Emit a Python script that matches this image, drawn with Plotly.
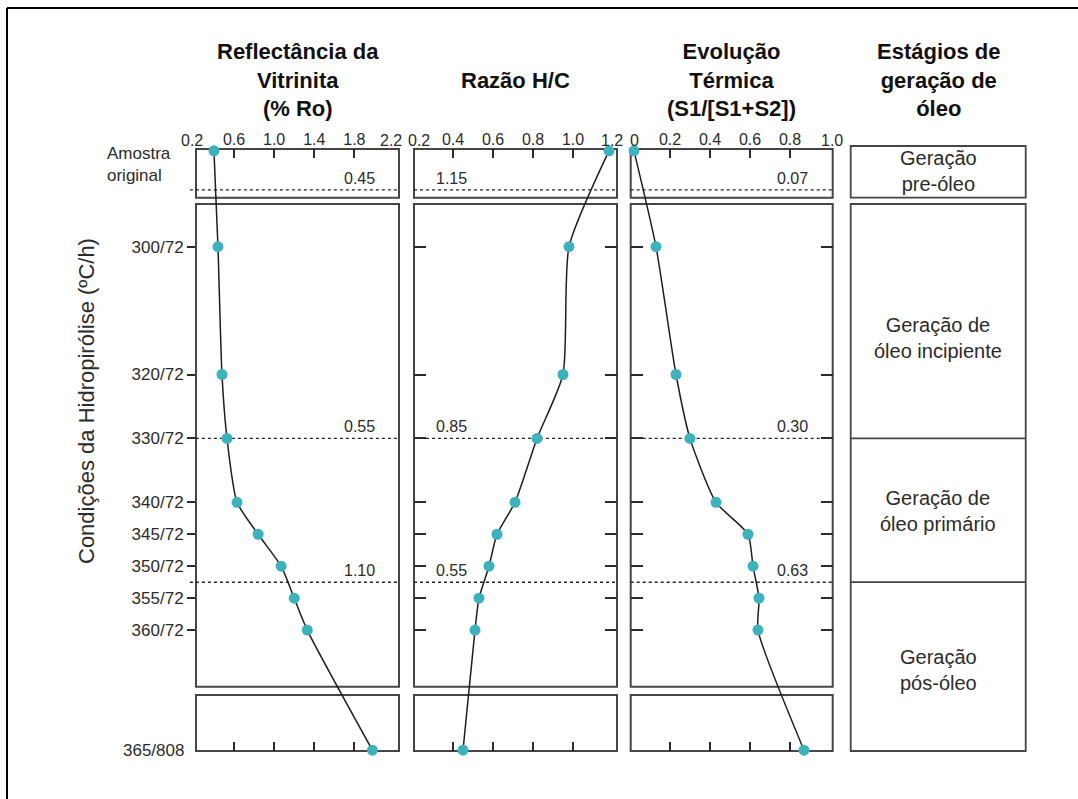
import plotly.graph_objects as go

W, H = 1078, 799

# ---- data -------------------------------------------------------------
categories = ["Amostra original", "300/72", "320/72", "330/72", "340/72",
              "345/72", "350/72", "355/72", "360/72", "365/808"]
ro_values = [0.40, 0.44, 0.48, 0.53, 0.63, 0.84, 1.07, 1.20, 1.33, 1.98]
hc_values = [1.18, 0.98, 0.95, 0.82, 0.71, 0.62, 0.58, 0.53, 0.51, 0.45]
s1_values = [0.02, 0.13, 0.23, 0.30, 0.43, 0.59, 0.615, 0.645, 0.64, 0.87]

ro_ticks = [0.2, 0.6, 1.0, 1.4, 1.8, 2.2]
hc_ticks = [0.2, 0.4, 0.6, 0.8, 1.0, 1.2]
s1_ticks = [0.0, 0.2, 0.4, 0.6, 0.8, 1.0]
ro_tick_text = ["0.2", "0.6", "1.0", "1.4", "1.8", "2.2"]
hc_tick_text = ["0.2", "0.4", "0.6", "0.8", "1.0", "1.2"]
s1_tick_text = ["0", "0.2", "0.4", "0.6", "0.8", "1.0"]

# values of each parameter at the stage boundaries
ro_limits = ["0.45", "0.55", "1.10"]
hc_limits = ["1.15", "0.85", "0.55"]
s1_limits = ["0.07", "0.30", "0.63"]

column_titles = ["Reflectância da<br>Vitrinita<br>(% Ro)",
                 "Razão H/C",
                 "Evolução<br>Térmica<br>(S1/[S1+S2])"]
stage_title = "Estágios de<br>geração de<br>óleo"
stage_names = ["Geração<br>pre-óleo", "Geração de<br>óleo incipiente",
               "Geração de<br>óleo primário", "Geração<br>pós-óleo"]
axis_title = "Condições da Hidropirólise (ºC/h)"

# ---- vertical scale ---------------------------------------------------
# 72 h runs sit on a temperature scale; the original sample and the long
# run are shown on separate broken segments above and below it.
POS_ORIGINAL = 285.0
POS_LONG_RUN = 378.8
Y_RANGE = [378.92, 284.71]
Y_PX = (149, 751)
STAGE_BOUNDS = [291.1, 330.0, 352.5]


def row_position(label):
    if label == categories[0]:
        return POS_ORIGINAL
    if label.endswith("/808"):
        return POS_LONG_RUN
    return float(label.split("/")[0])


positions = [row_position(c) for c in categories]
mid_pos = positions[1:-1]
mid_text = categories[1:-1]


def px(x):
    return x / W


def py(y):
    return 1 - y / H


SEGMENTS_PX = [(149, 197.7), (204, 686.7), (695, 751)]

FONT = "Liberation Sans, Arial, sans-serif"
INK = "#2b2b2b"
FRAME = "#454545"
TEAL = "#3cb2bc"

columns = [
    dict(values=ro_values, ticks=ro_ticks, text=ro_tick_text, limits=ro_limits,
         frame=(196, 399), ref=(0.2, 193.9), ppu=100.3, edge_shift=(-2, -4),
         lim_x=0.89, lim_anchor="right"),
    dict(values=hc_values, ticks=hc_ticks, text=hc_tick_text, limits=hc_limits,
         frame=(414, 617), ref=(0.2, 413.0), ppu=200.0, edge_shift=(6, -1),
         lim_x=0.10, lim_anchor="left"),
    dict(values=s1_values, ticks=s1_ticks, text=s1_tick_text, limits=s1_limits,
         frame=(630.7, 832.7), ref=(0.0, 630.0), ppu=200.0, edge_shift=(4, 2),
         lim_x=0.89, lim_anchor="right"),
]

fig = go.Figure()
layout = dict(
    width=W, height=H,
    margin=dict(l=0, r=0, t=0, b=0),
    paper_bgcolor="white", plot_bgcolor="rgba(0,0,0,0)",
    showlegend=False,
    font=dict(family=FONT, color=INK),
)
shapes = []
annotations = []

for i, col in enumerate(columns, start=1):
    xa = "x" if i == 1 else f"x{i}"
    ya = "y" if i == 1 else f"y{i}"
    fl, fr = col["frame"]
    v0, p0 = col["ref"]
    ppu = col["ppu"]
    xr = [v0 + (fl - p0) / ppu, v0 + (fr - p0) / ppu]
    inner = col["ticks"][1:-1]
    inner_text = col["text"][1:-1]

    fig.add_trace(go.Scatter(
        x=col["values"], y=positions, xaxis=xa, yaxis=ya,
        mode="lines+markers", cliponaxis=False,
        line=dict(color="#1e1e1e", width=1.5, shape="spline", smoothing=0.6),
        marker=dict(color=TEAL, size=11, line=dict(width=0)),
        hoverinfo="skip",
    ))

    layout[f"xaxis{'' if i == 1 else i}"] = dict(
        domain=[px(fl), px(fr)], range=xr, anchor=ya, side="top",
        tickvals=inner, ticktext=inner_text, ticks="inside", ticklen=9,
        tickwidth=2, tickcolor=INK, mirror="ticks", showline=False,
        showgrid=False, zeroline=False,
        tickfont=dict(size=16, color=INK, family=FONT),
    )
    yax = dict(
        domain=[py(Y_PX[1]), py(Y_PX[0])], range=Y_RANGE, anchor=xa,
        tickvals=mid_pos, showgrid=False, zeroline=False, showline=False,
        tickwidth=2, tickcolor=INK,
    )
    if i == 1:
        yax.update(ticks="outside", ticklen=8, ticktext=mid_text,
                   tickfont=dict(size=17, color=INK, family=FONT))
        layout["yaxis4"] = dict(
            domain=yax["domain"], range=Y_RANGE, overlaying="y", side="right",
            anchor="x", tickvals=mid_pos, ticks="inside", ticklen=12,
            tickwidth=2, tickcolor=INK, showticklabels=False,
            showgrid=False, zeroline=False, showline=False,
        )
    else:
        yax.update(ticks="inside", ticklen=12, mirror="ticks",
                   showticklabels=False)
    layout[f"yaxis{'' if i == 1 else i}"] = yax

    # edge tick labels sitting over the panel borders
    for val, txt, shift in ((col["ticks"][0], col["text"][0], col["edge_shift"][0]),
                            (col["ticks"][-1], col["text"][-1], col["edge_shift"][1])):
        annotations.append(dict(
            x=px(p0 + (val - v0) * ppu + shift), xref="paper",
            y=py(Y_PX[0]), yref="paper", yanchor="bottom", yshift=-2,
            xanchor="center", text=txt, showarrow=False,
            font=dict(size=16, color=INK, family=FONT),
        ))

    # broken panel frames
    for top, bot in SEGMENTS_PX:
        shapes.append(dict(
            type="rect", xref="paper", yref="paper",
            x0=px(fl), x1=px(fr), y0=py(bot), y1=py(top),
            line=dict(color=FRAME, width=2), layer="below",
        ))

    # stage boundaries
    for b, lab in zip(STAGE_BOUNDS, col["limits"]):
        shapes.append(dict(
            type="line", xref=f"{xa} domain", yref=ya,
            x0=-0.03 if i == 1 else 0, x1=1, y0=b, y1=b,
            line=dict(color="#222222", width=1.4, dash="dot"), layer="below",
        ))
        annotations.append(dict(
            x=col["lim_x"], xref=f"{xa} domain", y=b, yref=ya,
            xanchor=col["lim_anchor"], yanchor="bottom", yshift=1,
            text=lab, showarrow=False,
            font=dict(size=16, color=INK, family=FONT),
        ))

    annotations.append(dict(
        x=px((fl + fr) / 2), xref="paper", y=py(80), yref="paper",
        xanchor="center", yanchor="middle", text=column_titles[i - 1],
        showarrow=False,
        font=dict(size=22, color="#111111", family=FONT, weight="bold"),
    ))

# labels of the broken segments on the left axis
annotations.append(dict(
    x=px(105), xref="paper", y=py(165), yref="paper", xanchor="left",
    yanchor="middle", align="left", text=categories[0].replace(" ", "<br>"),
    showarrow=False, font=dict(size=17, color=INK, family=FONT),
))
annotations.append(dict(
    x=px(186), xref="paper", y=POS_LONG_RUN, yref="y", xanchor="right",
    yanchor="middle", text=categories[-1], showarrow=False,
    font=dict(size=17, color=INK, family=FONT),
))

# vertical axis title
annotations.append(dict(
    x=px(87), xref="paper", y=py(401), yref="paper", xanchor="center",
    yanchor="middle", textangle=-90, text=axis_title, showarrow=False,
    font=dict(size=22, color=INK, family=FONT),
))

# stage column
SL, SR = 850.7, 1025.7
annotations.append(dict(
    x=px((SL + SR) / 2), xref="paper", y=py(80), yref="paper",
    xanchor="center", yanchor="middle", text=stage_title, showarrow=False,
    font=dict(size=22, color="#111111", family=FONT, weight="bold"),
))
shapes.append(dict(type="rect", xref="paper", yref="paper",
                   x0=px(SL), x1=px(SR), y0=py(197.7), y1=py(146),
                   line=dict(color=FRAME, width=1.8)))
shapes.append(dict(type="rect", xref="paper", yref="paper",
                   x0=px(SL), x1=px(SR), y0=py(751), y1=py(204),
                   line=dict(color=FRAME, width=1.8)))
for b in STAGE_BOUNDS[1:]:
    shapes.append(dict(type="line", xref="paper", yref="y",
                       x0=px(SL), x1=px(SR), y0=b, y1=b,
                       line=dict(color=FRAME, width=1.8)))

stage_centers = [171, 338, 511, 670]
for name, cy in zip(stage_names, stage_centers):
    annotations.append(dict(
        x=px((SL + SR) / 2), xref="paper", y=py(cy), yref="paper",
        xanchor="center", yanchor="middle", text=name, showarrow=False,
        font=dict(size=20, color=INK, family=FONT),
    ))

# outer border (top and left edges)
shapes.append(dict(type="line", xref="paper", yref="paper",
                   x0=px(7), x1=1.05, y0=py(8), y1=py(8),
                   line=dict(color="black", width=2)))
shapes.append(dict(type="line", xref="paper", yref="paper",
                   x0=px(7), x1=px(7), y0=py(8), y1=-0.05,
                   line=dict(color="black", width=2)))

layout["shapes"] = shapes
layout["annotations"] = annotations
fig.update_layout(**layout)

fig.write_html("out.html")
